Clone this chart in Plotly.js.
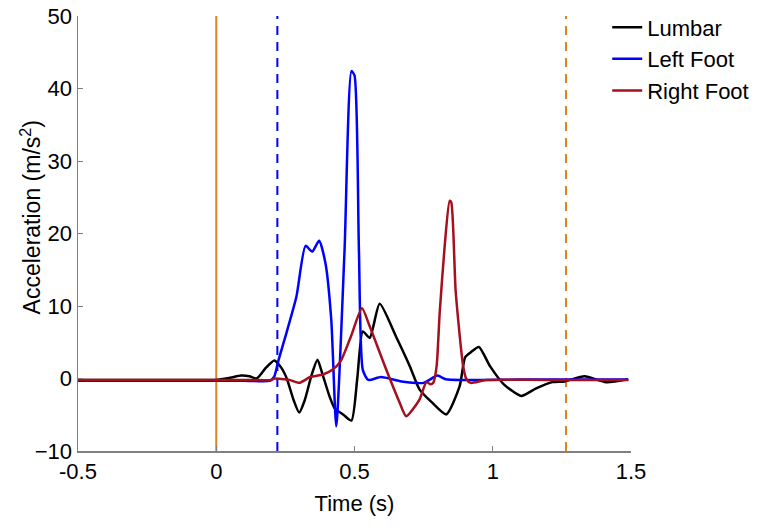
<!DOCTYPE html>
<html>
<head>
<meta charset="utf-8">
<script src="https://cdn.plot.ly/plotly-3.0.1.min.js"></script>
<style>
    html, body { margin: 0; padding: 0; background: #fff; }
    #plotElement { width: 765px; height: 528px; }
</style>
</head>
<body>
<div id="plotElement"></div>
<script>
// time (s) and acceleration (m/s^2)
const lumbarTime = [-0.5, -0.3, -0.1, 0.0, 0.05, 0.09, 0.12, 0.146, 0.18, 0.21, 0.235, 0.255, 0.28, 0.30, 0.32, 0.345, 0.366, 0.385, 0.41, 0.428, 0.46, 0.489, 0.51, 0.53, 0.555, 0.591, 0.65, 0.70, 0.735, 0.78, 0.832, 0.88, 0.90, 0.92, 0.95, 0.99, 1.04, 1.103, 1.155, 1.215, 1.26, 1.332, 1.41, 1.49];
const lumbarAcc = [-0.2, -0.2, -0.2, -0.2, 0.1, 0.4, 0.3, 0.0, 1.5, 2.5, 1.5, 0.0, -3.0, -4.7, -3.0, 0.5, 2.6, 0.5, -2.5, -4.1, -5.0, -5.8, 0.0, 6.5, 5.6, 10.3, 5.8, 1.7, -1.5, -3.3, -4.95, -1.1, 2.9, 3.6, 4.35, 1.7, -0.8, -2.4, -1.4, -0.5, -0.4, 0.3, -0.5, -0.1];

const leftFootTime = [-0.5, -0.2, 0.1, 0.195, 0.21, 0.225, 0.254, 0.29, 0.323, 0.347, 0.372, 0.395, 0.416, 0.434, 0.464, 0.489, 0.50, 0.516, 0.53, 0.55, 0.596, 0.67, 0.75, 0.80, 0.83, 0.90, 1.1, 1.3, 1.49];
const leftFootAcc = [-0.3, -0.3, -0.3, -0.3, 0.3, 2.5, 6.3, 11.3, 18.3, 17.5, 19.0, 15.9, 8.1, -6.6, 17.7, 42.4, 41.8, 17.7, 1.2, -0.2, 0.2, -0.4, -0.6, 0.4, -0.1, -0.2, -0.15, -0.15, -0.15];

const rightFootTime = [-0.5, -0.2, 0.1, 0.2, 0.21, 0.265, 0.30, 0.34, 0.386, 0.42, 0.45, 0.487, 0.527, 0.555, 0.615, 0.663, 0.687, 0.735, 0.76, 0.775, 0.785, 0.797, 0.808, 0.826, 0.844, 0.85, 0.866, 0.893, 0.905, 0.92, 0.975, 1.2, 1.49];
const rightFootAcc = [-0.2, -0.2, -0.2, -0.2, 0.0, -0.2, -0.6, 0.2, 0.55, 1.2, 2.4, 5.8, 9.7, 7.2, 1.2, -3.3, -5.2, -2.9, -0.5, -0.8, -0.6, 1.7, 9.0, 18.2, 24.5, 24.3, 12.0, 1.7, -0.1, -0.6, -0.2, -0.2, -0.2];

// event markers (vertical lines)
const eventTimes = [0, 0.221, 1.265];
const eventColors = ['#E0821E', '#0000FF', '#E0821E'];
const eventDash = ['solid', 'dash', 'dash'];

const seriesNames = ['Lumbar', 'Left Foot', 'Right Foot'];
const seriesColors = ['#000000', '#0000FF', '#A50F1E'];

const xTicks = [-0.5, 0, 0.5, 1, 1.5];
const xTickText = ['-0.5', '0', '0.5', '1', '1.5'];
const yTicks = [-10, 0, 10, 20, 30, 40, 50];

const font = 'Liberation Sans, Arial, Helvetica, sans-serif';
const fontSize = 22;

const xs = [lumbarTime, leftFootTime, rightFootTime];
const ys = [lumbarAcc, leftFootAcc, rightFootAcc];

const data = seriesNames.map((name, i) => ({
    type: 'scatter',
    mode: 'lines',
    x: xs[i],
    y: ys[i],
    name: name,
    line: { color: seriesColors[i], width: 2.5, shape: 'spline', smoothing: 0.6 }
}));

const shapes = eventTimes.map((t, i) => ({
    type: 'line',
    xref: 'x', yref: 'paper',
    x0: t, x1: t, y0: 0, y1: 1,
    line: { color: eventColors[i], width: 2, dash: eventDash[i] === 'dash' ? '9px,7px' : 'solid' },
    layer: 'below'
}));

const axisCommon = {
    showgrid: false,
    zeroline: false,
    showline: true,
    linecolor: '#808080',
    linewidth: 1.5,
    ticks: 'inside',
    ticklen: 5,
    tickwidth: 1,
    tickcolor: '#808080',
    tickfont: { family: font, size: fontSize, color: '#000' }
};

const layout = {
    width: 765,
    height: 528,
    margin: { l: 78, r: 134, t: 16, b: 77, autoexpand: false },
    paper_bgcolor: '#fff',
    plot_bgcolor: '#fff',
    font: { family: font, color: '#000' },
    showlegend: true,
    legend: {
        x: 0.957, xanchor: 'left',
        y: 1.022, yanchor: 'top',
        bgcolor: 'rgba(0,0,0,0)',
        font: { family: font, size: fontSize, color: '#000' }
    },
    xaxis: Object.assign({}, axisCommon, {
        range: [-0.5, 1.5],
        tickmode: 'array',
        tickvals: xTicks,
        ticktext: xTickText,
        title: { text: 'Time (s)', font: { family: font, size: fontSize }, standoff: 12 }
    }),
    yaxis: Object.assign({}, axisCommon, {
        range: [-10, 50],
        tickmode: 'array',
        tickvals: yTicks
    }),
    // y title sits a bit above centre in the original, so place it by hand
    annotations: [{
        text: 'Acceleration (m/s<sup>2</sup>)',
        xref: 'paper', yref: 'paper',
        x: -0.085, y: 0.537,
        xanchor: 'center', yanchor: 'middle',
        textangle: -90,
        showarrow: false,
        font: { family: font, size: 23, color: '#000' }
    }],
    shapes: shapes
};

Plotly.newPlot('plotElement', data, layout, { displayModeBar: false, staticPlot: true });
</script>
</body>
</html>
